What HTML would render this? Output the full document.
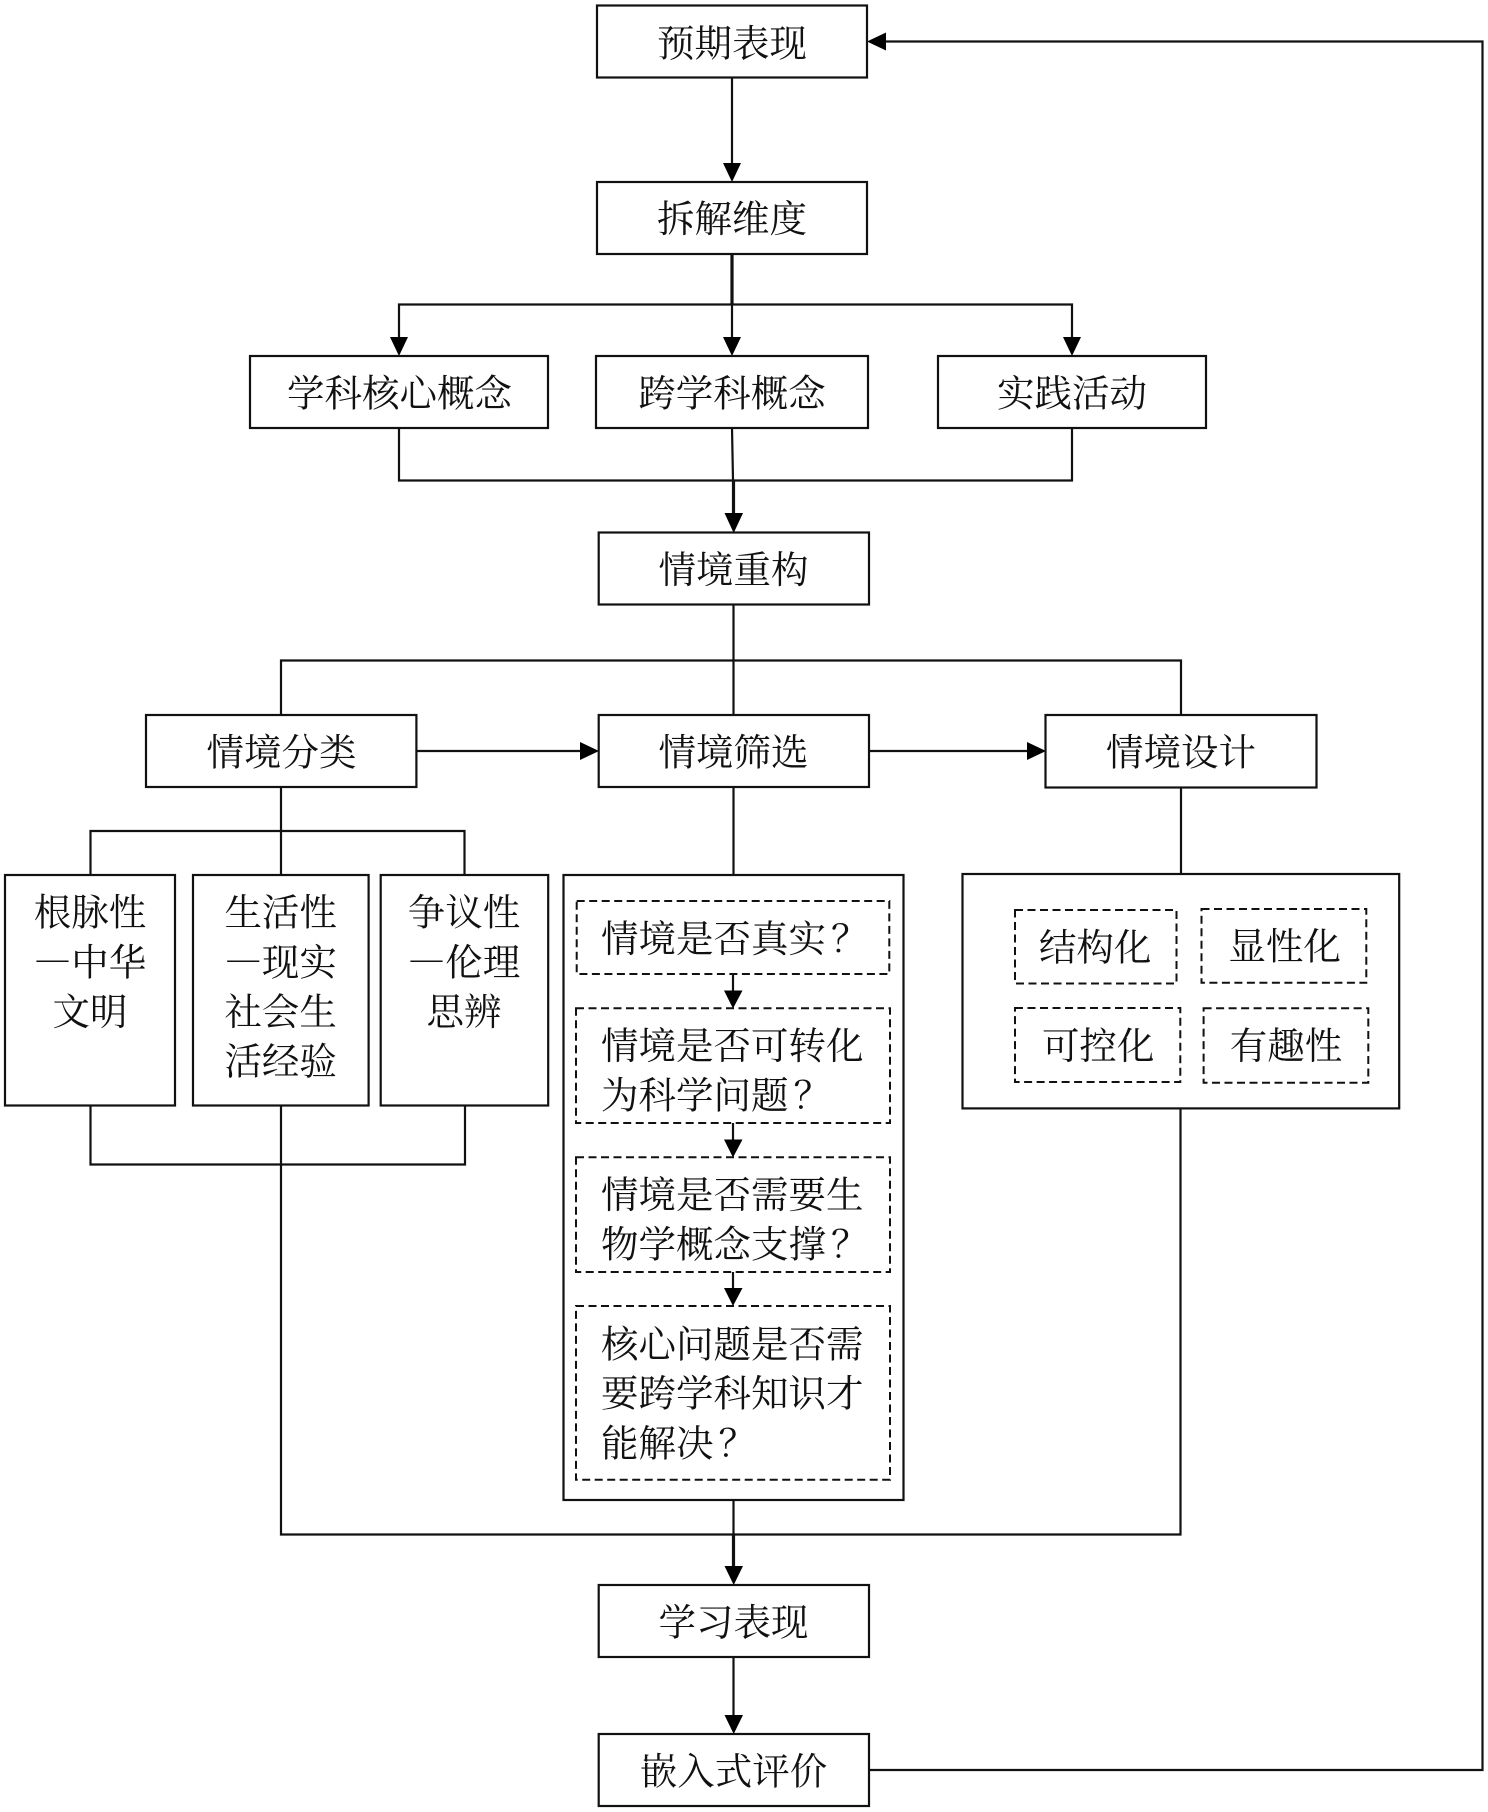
<!DOCTYPE html>
<html lang="zh">
<head>
<meta charset="utf-8">
<title>流程图</title>
<style>
html,body{margin:0;padding:0;background:#fff;width:1488px;height:1812px;overflow:hidden}
svg{display:block}
text{font-family:"Noto Serif CJK SC","Liberation Serif",serif;font-size:37.5px;fill:#111;dominant-baseline:central;font-weight:400}
.c{text-anchor:middle}
.l{text-anchor:start}
.b{fill:#fff;stroke:#111;stroke-width:2.2}
.d{fill:#fff;stroke:#111;stroke-width:2;stroke-dasharray:8 4.5}
.w{fill:none;stroke:#111;stroke-width:2.2}
.t{fill:none;stroke:#111;stroke-width:3.2}
.a{fill:#000;stroke:none}
</style>
</head>
<body>
<svg width="1488" height="1812" viewBox="0 0 1488 1812" xmlns="http://www.w3.org/2000/svg">
<rect width="1488" height="1812" fill="#fff"/>

<!-- connectors -->
<path class="w" d="M732 78V165"/>
<path class="t" d="M732 254V304"/>
<path class="w" d="M732 304V340"/>
<path class="w" d="M399 340V304.500H1072V340"/>
<path class="w" d="M399 428V480.500H1072V428"/>
<path class="w" d="M732 428L733 480"/>
<path class="t" d="M733.500 480V516"/>
<path class="w" d="M733.500 604V875"/>
<path class="w" d="M281 715V660.500H1181V715"/>
<path class="w" d="M281 787V875"/>
<path class="w" d="M90.500 875V831H464.500V875"/>
<path class="w" d="M90.500 1105V1164.500H465V1105"/>
<path class="w" d="M416 751H582"/>
<path class="w" d="M869 751H1029"/>
<path class="w" d="M1181 787V875"/>
<path class="w" d="M281 1105V1534.500H1180.500V1108"/>
<path class="w" d="M733.500 1500V1534"/>
<path class="t" d="M733.500 1534V1568"/>
<path class="w" d="M733.500 1657V1717"/>
<path class="w" d="M869 1770H1482.500V41.500H884"/>

<!-- arrowheads -->
<polygon class="a" points="723,163 741,163 732,182"/>
<polygon class="a" points="390,337 408,337 399,356"/>
<polygon class="a" points="723,337 741,337 732,356"/>
<polygon class="a" points="1063,337 1081,337 1072,356"/>
<polygon class="a" points="724.500,513 743,513 733.700,533"/>
<polygon class="a" points="580,742 580,760 599,751"/>
<polygon class="a" points="1027,742 1027,760 1046,751"/>
<polygon class="a" points="886,32.500 886,50.500 867,41.500"/>
<polygon class="a" points="724.500,1566 743,1566 733.700,1585"/>
<polygon class="a" points="724.500,1715 743,1715 733.700,1734"/>

<!-- main boxes -->
<rect class="b" x="597" y="5.500" width="270" height="72"/>
<rect class="b" x="597" y="182" width="270" height="72"/>
<rect class="b" x="250" y="356" width="298" height="72"/>
<rect class="b" x="596" y="356" width="272" height="72"/>
<rect class="b" x="938" y="356" width="268" height="72"/>
<rect class="b" x="598.700" y="532.500" width="270.300" height="72"/>
<rect class="b" x="146" y="715" width="270.400" height="72"/>
<rect class="b" x="598.700" y="715" width="270.300" height="72"/>
<rect class="b" x="1045.500" y="715" width="271" height="72.500"/>
<rect class="b" x="5" y="875" width="170" height="230.500"/>
<rect class="b" x="193" y="875" width="175.600" height="230.500"/>
<rect class="b" x="380.700" y="875" width="167.500" height="230.500"/>
<rect class="b" x="563.500" y="875" width="340" height="625"/>
<rect class="b" x="962.500" y="874" width="436.700" height="234.400"/>
<rect class="b" x="598.700" y="1585" width="270.300" height="72"/>
<rect class="b" x="598.700" y="1734" width="270.300" height="72"/>

<!-- dashed boxes -->
<rect class="d" x="576.700" y="901" width="312.600" height="73"/>
<rect class="d" x="576" y="1008.300" width="314" height="114.700"/>
<rect class="d" x="576" y="1157.300" width="314" height="114.700"/>
<rect class="d" x="576" y="1306" width="314" height="173.700"/>
<rect class="d" x="1015" y="910" width="161.500" height="73.500"/>
<rect class="d" x="1201.500" y="909" width="164.800" height="73.800"/>
<rect class="d" x="1015" y="1008" width="165.300" height="74"/>
<rect class="d" x="1203.600" y="1008.200" width="164.700" height="74.500"/>

<!-- filter-step arrows -->
<path class="w" d="M733 974V992"/>
<polygon class="a" points="724,990.500 742.500,990.500 733,1008.500"/>
<path class="w" d="M733 1123V1141"/>
<polygon class="a" points="724,1139.500 742.500,1139.500 733,1157.500"/>
<path class="w" d="M733 1272V1290"/>
<polygon class="a" points="724,1288 742.500,1288 733,1306"/>

<!-- labels -->
<g transform="translate(0,-2)">
<text class="c" x="732" y="42.500">预期表现</text>
<text class="c" x="732" y="218">拆解维度</text>
<text class="c" x="399.500" y="392.500">学科核心概念</text>
<text class="c" x="732" y="392.500">跨学科概念</text>
<text class="c" x="1072" y="392.500">实践活动</text>
<text class="c" x="733.500" y="569">情境重构</text>
<text class="c" x="281.500" y="751.500">情境分类</text>
<text class="c" x="733.500" y="751.500">情境筛选</text>
<text class="c" x="1181" y="751.500">情境设计</text>
<text class="c" x="90" y="911.500">根脉性</text>
<text class="c" x="90" y="961.500">—中华</text>
<text class="c" x="90" y="1011">文明</text>
<text class="c" x="280.700" y="911.500">生活性</text>
<text class="c" x="280.700" y="961.500">—现实</text>
<text class="c" x="280.700" y="1011">社会生</text>
<text class="c" x="280.700" y="1060.500">活经验</text>
<text class="c" x="464" y="911.500">争议性</text>
<text class="c" x="464" y="961.500">—伦理</text>
<text class="c" x="464" y="1011">思辨</text>
<text class="l" x="601" y="938">情境是否真实<tspan dx="5">？</tspan></text>
<text class="l" x="601" y="1045">情境是否可转化</text>
<text class="l" x="601" y="1094.300">为科学问题<tspan dx="5">？</tspan></text>
<text class="l" x="601" y="1194">情境是否需要生</text>
<text class="l" x="601" y="1243.300">物学概念支撑<tspan dx="5">？</tspan></text>
<text class="l" x="601" y="1343.300">核心问题是否需</text>
<text class="l" x="601" y="1392.700">要跨学科知识才</text>
<text class="l" x="601" y="1442.300">能解决<tspan dx="5">？</tspan></text>
<text class="c" x="1095.200" y="946.500">结构化</text>
<text class="c" x="1284.600" y="945.500">显性化</text>
<text class="c" x="1098.200" y="1045">可控化</text>
<text class="c" x="1286" y="1045">有趣性</text>
<text class="c" x="733.500" y="1621.700">学习表现</text>
<text class="c" x="733.500" y="1770.500">嵌入式评价</text>
</g>
</svg>
</body>
</html>
